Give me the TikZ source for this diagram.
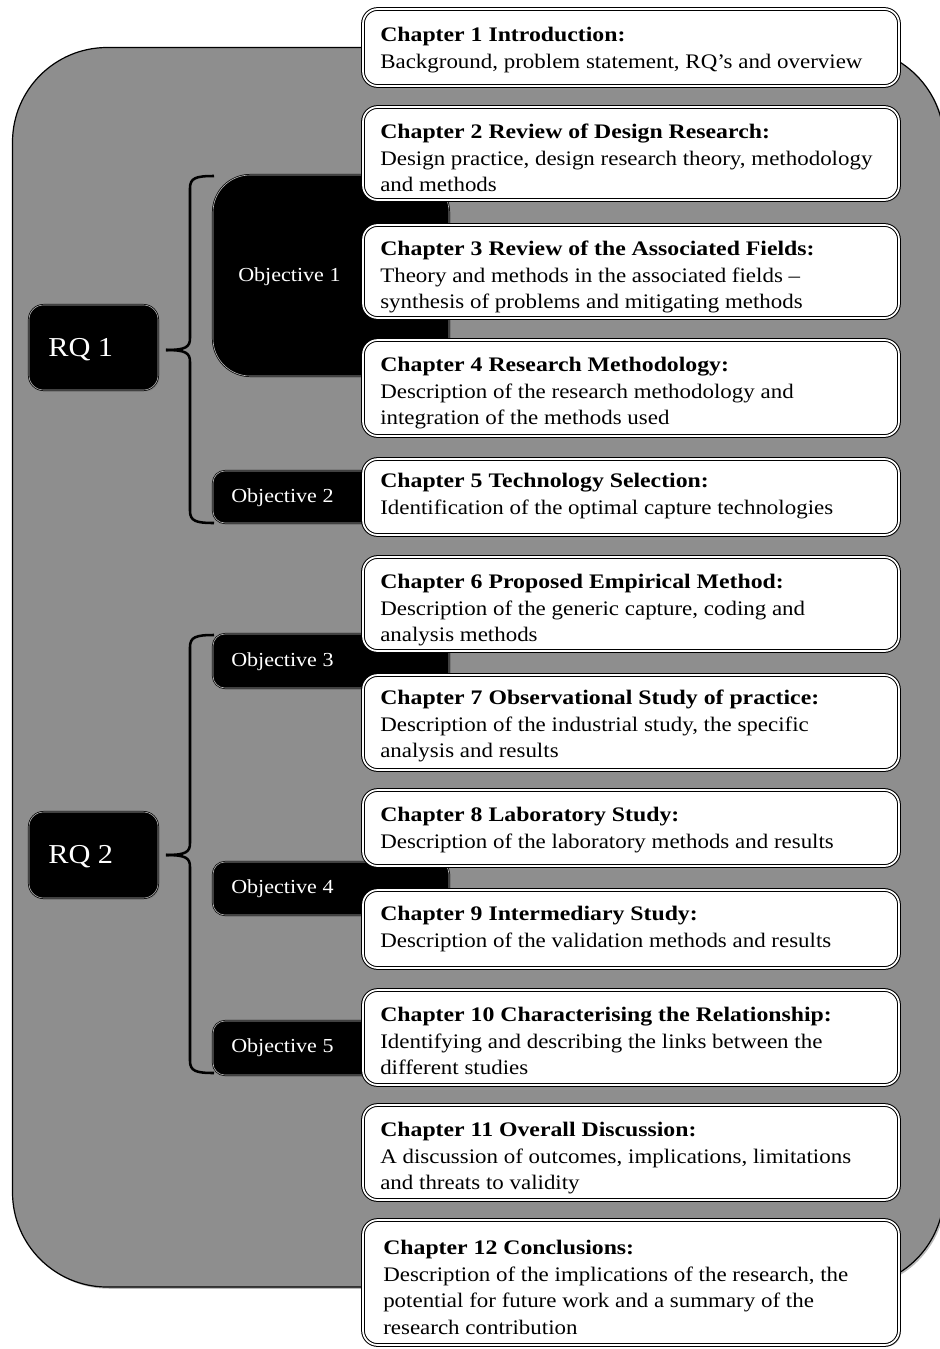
\documentclass[tikz,border=0pt]{standalone}
\usepackage{fontspec}
\setmainfont{Liberation Serif}[FakeStretch=1.11, BoldFeatures={FakeStretch=1.15}]
\usetikzlibrary{fit,shadows}
\definecolor{bggray}{RGB}{142,142,142}
\tikzset{
  x=0.75pt, y=-0.75pt,
  shad/.style={drop shadow={shadow xshift=1.3pt, shadow yshift=-1.3pt, opacity=0.55}},
  bgbox/.style={draw=black, line width=0.9pt, fill=bggray, rounded corners=71pt, inner sep=0pt, shad},
  chbox/.style={draw=black, line width=0.75pt, double=white, double distance=1.3pt, fill=white, rounded corners=11pt, inner sep=0pt, shad},
  objbox/.style={draw=black, line width=0.55pt, double=gray!55, double distance=0.45pt, fill=black, inner sep=0pt, shad},
  chtext/.style={anchor=base west, inner sep=0pt, font=\fontsize{15.5}{19.9}\selectfont},
  objtext/.style={anchor=west, inner sep=0pt, text=white, font=\fontsize{14.9}{17}\selectfont},
  rqtext/.style={anchor=west, inner sep=0pt, text=white, font=\fontsize{20.5}{25}\selectfont},
  bracel/.style={draw=black, line width=1.9pt}
}
\newcommand{\chtxt}[2]{\parbox[t]{405pt}{\raggedright\textbf{#1}\\#2}}
\begin{document}
\begin{tikzpicture}
\useasboundingbox (0,0) rectangle (939,1349);
% background
\node[bgbox, fit={(12.5,47.5) (944,1287)}] (bg) {};
% objective boxes
\node[objbox, rounded corners=28pt, fit={(213,175) (449,376)}] (o1) {};
\node[objbox, rounded corners=9pt, fit={(213,471) (449,523)}] (o2) {};
\node[objbox, rounded corners=9pt, fit={(213,634) (449,688)}] (o3) {};
\node[objbox, rounded corners=9pt, fit={(213,862) (449,915)}] (o4) {};
\node[objbox, rounded corners=9pt, fit={(213,1021) (449,1075)}] (o5) {};
\node[objtext] (ot1) at (238,277) {Objective 1};
\node[objtext] (ot2) at (231,498) {Objective 2};
\node[objtext] (ot3) at (231,662) {Objective 3};
\node[objtext] (ot4) at (231,889) {Objective 4};
\node[objtext] (ot5) at (231,1048) {Objective 5};
% chapter boxes
\node[chbox, fit={(363,9) (899,86)}] (c1) {};
\node[chbox, fit={(363,107) (899,200)}] (c2) {};
\node[chbox, fit={(363,225) (899,318)}] (c3) {};
\node[chbox, fit={(363,340) (899,436)}] (c4) {};
\node[chbox, fit={(363,459) (899,535)}] (c5) {};
\node[chbox, fit={(363,557) (899,651)}] (c6) {};
\node[chbox, fit={(363,675) (899,770)}] (c7) {};
\node[chbox, fit={(363,790) (899,866)}] (c8) {};
\node[chbox, fit={(363,890) (899,968)}] (c9) {};
\node[chbox, fit={(363,990) (899,1085)}] (c10) {};
\node[chbox, fit={(363,1105) (899,1200)}] (c11) {};
\node[chbox, fit={(363,1220) (899,1345)}] (c12) {};
\node[chtext] (t1) at (380,41.5) {\chtxt{Chapter 1 Introduction:}{Background, problem statement, RQ’s and overview}};
\node[chtext] (t2) at (380,138.5) {\chtxt{Chapter 2 Review of Design Research:}{Design practice, design research theory, methodology\\and methods}};
\node[chtext] (t3) at (380,255.5) {\chtxt{Chapter 3 Review of the Associated Fields:}{Theory and methods in the associated fields –\\synthesis of problems and mitigating methods}};
\node[chtext] (t4) at (380,371.5) {\chtxt{Chapter 4 Research Methodology:}{Description of the research methodology and\\integration of the methods used}};
\node[chtext] (t5) at (380,487.5) {\chtxt{Chapter 5 Technology Selection:}{Identification of the optimal capture technologies}};
\node[chtext] (t6) at (380,588.5) {\chtxt{Chapter 6 Proposed Empirical Method:}{Description of the generic capture, coding and\\analysis methods}};
\node[chtext] (t7) at (380,704.5) {\chtxt{Chapter 7 Observational Study of practice:}{Description of the industrial study, the specific\\analysis and results}};
\node[chtext] (t8) at (380,821.5) {\chtxt{Chapter 8 Laboratory Study:}{Description of the laboratory methods and results}};
\node[chtext] (t9) at (380,920.5) {\chtxt{Chapter 9 Intermediary Study:}{Description of the validation methods and results}};
\node[chtext] (t10) at (380,1021.5) {\chtxt{Chapter 10 Characterising the Relationship:}{Identifying and describing the links between the\\different studies}};
\node[chtext] (t11) at (380,1136.5) {\chtxt{Chapter 11 Overall Discussion:}{A discussion of outcomes, implications, limitations\\and threats to validity}};
\node[chtext] (t12) at (383,1254.5) {\chtxt{Chapter 12 Conclusions:}{Description of the implications of the research, the\\potential for future work and a summary of the\\research contribution}};
% RQ boxes
\node[objbox, rounded corners=11pt, fit={(29,305) (158,390)}] (rq1) {};
\node[objbox, rounded corners=11pt, fit={(29,812) (158,898)}] (rq2) {};
\node[rqtext] (rqt1) at (48,350) {RQ 1};
\node[rqtext] (rqt2) at (48,857) {RQ 2};
% braces
\coordinate (b1t) at (214,176);
\coordinate (b1b) at (214,523);
\coordinate (b1m) at (166,350);
\draw[bracel] (b1t) .. controls (196,176) and (190,178) .. (190,188) -- (190,338) .. controls (190,347) and (186,350) .. (b1m);
\draw[bracel] (b1b) .. controls (196,523) and (190,521) .. (190,511) -- (190,362) .. controls (190,353) and (186,350) .. (b1m);
\coordinate (b2t) at (214,635);
\coordinate (b2b) at (214,1073);
\coordinate (b2m) at (166,855);
\draw[bracel] (b2t) .. controls (196,635) and (190,637) .. (190,647) -- (190,843) .. controls (190,852) and (186,855) .. (b2m);
\draw[bracel] (b2b) .. controls (196,1073) and (190,1071) .. (190,1061) -- (190,867) .. controls (190,858) and (186,855) .. (b2m);
\end{tikzpicture}
\end{document}
